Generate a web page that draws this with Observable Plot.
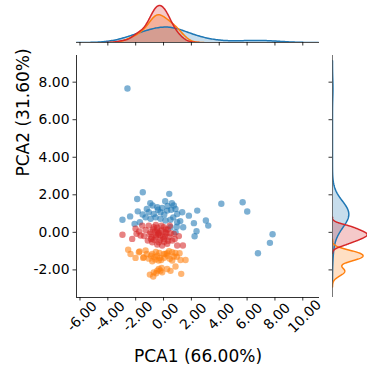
<!DOCTYPE html>
<html><head><meta charset="utf-8">
<script src="https://cdn.jsdelivr.net/npm/d3@7"></script>
<script src="https://cdn.jsdelivr.net/npm/@observablehq/plot@0.6"></script>
<style>
body{margin:0;background:#fff;}
#wrap{position:relative;width:367px;height:370px;overflow:hidden;font-family:"DejaVu Sans",sans-serif;background:#fff;}
#wrap svg{position:absolute;overflow:visible;}
</style></head><body><div id="wrap"></div>
<script>
// ---- data ----
const groupNames = ["Group 1", "Group 2", "Group 3"];
const groupColors = ["#1f77b4", "#ff7f0e", "#d62728"];
const xTicks = [-6, -4, -2, 0, 2, 4, 6, 8, 10];
const yTicks = [-2, 0, 2, 4, 6, 8];
const xLabel = "PCA1 (66.00%)";
const yLabel = "PCA2 (31.60%)";
const xDomain = [-6.25, 11.2];
const yDomain = [-3.47, 9.42];

const blueX = [-2.59,-1.49,-1.89,0.41,0.12,-0.79,-0.45,0.74,0.86,-1.85,-1.06,-0.70,-0.22,0.26,0.98,1.34,1.82,2.42,-2.95,-2.08,-1.70,-1.29,-0.93,-0.57,-0.22,0.14,0.50,0.98,1.41,2.18,3.04,3.21,2.37,2.23,0.86,0.50,4.15,5.68,6.01,7.83,7.64,6.78,-0.40,-0.10,0.30,0.55,0.05,0.70,-1.20,-0.95,0.60,0.95,1.20,-1.50,-2.40];
const blueY = [7.66,2.14,1.78,2.05,1.66,1.43,1.34,1.43,1.25,1.12,1.07,0.98,1.07,1.16,0.98,1.07,0.89,1.16,0.67,0.45,0.54,0.80,0.72,0.80,0.72,0.63,0.67,0.54,0.27,0.49,0.63,0.36,0.06,-0.21,0.01,0.27,1.52,1.60,1.11,-0.10,-0.56,-1.11,1.20,1.30,1.40,1.20,0.95,0.80,1.25,1.55,1.55,0.30,0.60,0.95,0.85];

const orangeX = [-2.54,-2.37,-2.01,-1.46,-1.72,-1.29,-0.81,-0.65,-0.45,-0.26,-0.81,0.02,0.26,0.62,0.74,1.15,1.22,1.58,0.45,0.86,1.27,-0.14,-0.45,-0.70,-0.98,-0.74,-0.53,-0.22,0.26,-1.77,-1.42,-0.17,0.14,0.62,-0.34,-0.10,-0.55,0.40,-1.05,0.95,-0.30,-0.90,0.05,-0.60,0.85,-1.20,0.30,-0.35,0.50];
const orangeY = [-0.92,-1.15,-1.36,-1.36,-1.02,-0.97,-1.15,-1.33,-1.24,-1.36,-1.54,-1.15,-1.11,-1.06,-1.29,-1.11,-1.47,-1.47,-1.41,-1.82,-2.21,-1.89,-2.04,-2.13,-2.25,-2.35,-2.18,-2.04,-1.95,-1.06,-1.33,-1.47,-1.15,-1.50,-1.95,-2.13,-1.05,-1.00,-1.40,-1.30,-1.10,-1.25,-1.35,-1.45,-1.10,-1.15,-1.25,-1.50,-2.05];

const redX = [-2.95,-2.25,-1.94,-1.65,-2.01,-1.29,-0.93,-1.13,-0.70,-0.45,-0.22,-0.57,-0.81,-0.34,0.02,0.14,0.38,0.62,-0.10,-0.45,0.26,0.98,1.39,0.74,-1.53,-1.06,0.02,-0.30,-0.60,0.30,-1.40,-0.85,0.50,-0.15,0.10,-1.75,-0.55,0.45,-1.00,0.80,-0.25,0.05,-0.70,1.10,-0.40,-0.35,-0.15,-0.55,0.20,-0.75,0.35,-0.05,-0.45,0.15,-0.90];
const redY = [-0.13,-0.35,-0.08,-0.17,0.19,0.13,0.01,-0.44,0.27,0.10,-0.17,-0.26,-0.53,-0.53,-0.35,0.01,-0.26,-0.44,-0.70,-0.65,-0.61,-0.70,-0.70,-0.08,0.36,0.36,0.27,0.00,0.05,0.15,-0.20,-0.25,-0.05,0.35,-0.20,0.05,0.40,0.35,-0.10,-0.35,-0.40,-0.50,-0.40,-0.20,-0.10,-0.05,0.10,-0.15,-0.05,0.15,-0.45,-0.25,0.25,0.15,-0.35];

// ---- build tables ----
const seriesX = [blueX, orangeX, redX];
const seriesY = [blueY, orangeY, redY];
const points = [];
groupNames.forEach((g, i) => seriesX[i].forEach((x, j) => points.push({group: g, x, y: seriesY[i][j]})));
const N = points.length;

function kde(values, nTotal, gridsize = 200, cut = 3) {
  const n = values.length;
  const bw = d3.deviation(values) * Math.pow(n, -1 / 5);
  const lo = d3.min(values) - cut * bw, hi = d3.max(values) + cut * bw;
  const out = [];
  for (let i = 0; i < gridsize; i++) {
    const t = lo + (hi - lo) * i / (gridsize - 1);
    let s = 0;
    for (const v of values) { const z = (t - v) / bw; s += Math.exp(-0.5 * z * z); }
    out.push({t, d: s / (n * bw * Math.sqrt(2 * Math.PI)) * n / nTotal});
  }
  return out;
}
const kdeX = seriesX.map(v => kde(v, N));
const kdeY = seriesY.map(v => kde(v, N));
const topMax = d3.max(kdeX.flat(), d => d.d);
const rightMax = d3.max(kdeY.flat(), d => d.d);

const color = {domain: groupNames, range: groupColors};
const font = "DejaVu Sans";
const fmt = d => d.toFixed(2);
const svgStyle = {background: "none", overflow: "visible", fontFamily: font, color: "#000"};

// ---- main scatter ----
const main = Plot.plot({
  width: 320, height: 370,
  marginLeft: 76, marginRight: 1, marginTop: 55, marginBottom: 73,
  x: {domain: xDomain},
  y: {domain: yDomain},
  color,
  style: {...svgStyle, fontSize: "13.9px"},
  marks: [
    Plot.dot(points, {x: "x", y: "y", fill: "group", r: 3.2, fillOpacity: 0.58, stroke: "none"}),
    Plot.ruleX([xDomain[0]], {stroke: "#000", strokeWidth: 0.8}),
    Plot.ruleY([yDomain[0]], {stroke: "#000", strokeWidth: 0.8}),
    Plot.axisY({ticks: yTicks, tickFormat: fmt, tickSize: 3.5, tickPadding: 3.5, label: null, fontSize: 13.9, strokeWidth: 0.8}),
    Plot.axisX({ticks: xTicks, tickFormat: () => "", tickSize: 3.5, label: null, strokeWidth: 0.8}),
    Plot.text(xTicks, {x: d => d, text: fmt, frameAnchor: "bottom", rotate: -45, textAnchor: "middle", lineAnchor: "middle", dx: 2, dy: 19, fontSize: 13.9, fill: "#000"}),
    Plot.text([xLabel], {text: d => d, frameAnchor: "bottom", lineAnchor: "bottom", dy: 64.5, fontSize: 17, fill: "#000"}),
    Plot.text([yLabel], {text: d => d, frameAnchor: "left", rotate: -90, lineAnchor: "bottom", dx: -48, fontSize: 17, fill: "#000"})
  ]
});
main.style.left = "0px"; main.style.top = "0px";

// ---- top marginal ----
const topPlot = Plot.plot({
  width: 320, height: 49,
  marginLeft: 76, marginRight: 1, marginTop: 0, marginBottom: 1,
  x: {domain: xDomain, axis: null},
  y: {domain: [0, topMax * 48 / 37], axis: null},
  style: svgStyle,
  clip: true,
  marks: [
    ...kdeX.map((k, i) => Plot.areaY(k, {x: "t", y: "d", fill: groupColors[i], fillOpacity: 0.25})),
    ...kdeX.map((k, i) => Plot.lineY(k, {x: "t", y: "d", stroke: groupColors[i], strokeWidth: 1.5})),
    Plot.ruleY([0], {stroke: "#222", strokeWidth: 0.8, clip: false}),
    Plot.axisX({ticks: xTicks, tickFormat: () => "", tickSize: 3.5, label: null, strokeWidth: 0.8, clip: false})
  ]
});
topPlot.style.left = "0px"; topPlot.style.top = "-6px";

// ---- right marginal ----
const rightPlot = Plot.plot({
  width: 60, height: 370,
  marginLeft: 12, marginRight: 0, marginTop: 55, marginBottom: 73,
  x: {domain: [0, rightMax * 48 / 34.7], axis: null},
  y: {domain: yDomain, axis: null},
  style: svgStyle,
  clip: true,
  marks: [
    ...kdeY.map((k, i) => Plot.areaX(k, {y: "t", x: "d", fill: groupColors[i], fillOpacity: 0.25})),
    ...kdeY.map((k, i) => Plot.lineX(k, {y: "t", x: "d", stroke: groupColors[i], strokeWidth: 1.5})),
    Plot.ruleX([0], {stroke: "#555", strokeWidth: 0.8, clip: false}),
    Plot.axisY({ticks: yTicks, tickFormat: () => "", tickSize: 3.5, label: null, strokeWidth: 0.8, clip: false})
  ]
});
rightPlot.style.left = "320px"; rightPlot.style.top = "0px";

const wrap = document.getElementById("wrap");
wrap.append(main, topPlot, rightPlot);
</script></body></html>
